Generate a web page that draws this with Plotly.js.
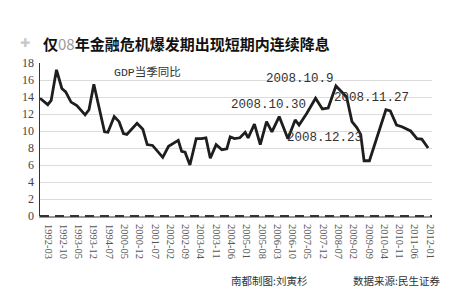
<!DOCTYPE html>
<html>
<head>
<meta charset="utf-8">
<script src="https://cdn.plot.ly/plotly-3.0.1.min.js"></script>
<style>html,body{margin:0;padding:0;background:#fff;}#chart{width:470px;height:300px;}</style>
</head>
<body>
<div id="chart"></div>
<script>
// period index (quarters from start of series) and GDP year-on-year growth (%)
const periods = [0.0, 1.6, 2.3, 3.4, 4.5, 5.3, 6.4, 7.6, 9.3, 10.1, 11.1, 12.2, 13.3, 14.0, 15.3, 16.3, 17.2, 17.9,
  20.0, 21.2, 22.1, 23.2, 25.3, 26.5, 28.5, 29.2, 29.9, 30.9, 32.2, 33.3, 34.2, 35.1, 36.3, 37.5, 38.5, 39.2,
  40.1, 41.2, 42.3, 42.9, 44.2, 45.4, 46.7, 47.8, 49.3, 51.1, 52.6, 53.4, 55.0, 56.8, 58.2, 59.4, 61.0, 62.2,
  63.2, 64.3, 65.3, 66.1, 66.8, 67.9, 71.3, 72.2, 73.5, 74.6, 76.4, 77.7, 78.7, 80.0];
const gdpGrowth = [13.85, 13.1, 13.6, 17.2, 15.0, 14.6, 13.4, 13.0, 11.9, 12.5, 15.5, 12.7, 9.9, 9.85, 11.7, 11.1, 9.7, 9.6,
  10.9, 10.2, 8.4, 8.3, 6.9, 8.2, 8.9, 7.6, 7.5, 6.0, 9.1, 9.1, 9.2, 6.8, 8.4, 7.8, 7.9, 9.3,
  9.1, 9.2, 9.85, 9.2, 10.8, 8.4, 11.1, 9.9, 11.7, 9.1, 11.3, 10.7, 12.1, 13.85, 12.6, 12.7, 15.3, 14.6,
  14.0, 11.1, 10.4, 9.6, 6.5, 6.5, 12.5, 12.35, 10.7, 10.5, 10.0, 9.1, 9.05, 8.0];
const tickLabels = ["1992-03","1992-10","1993-05","1993-12","1994-07","2000-05","2000-12","2001-07","2002-02",
  "2002-09","2003-04","2003-11","2004-06","2005-01","2005-08","2006-03","2006-10","2007-05","2007-12",
  "2008-07","2009-02","2009-09","2010-04","2010-11","2011-06","2012-01"];
const yTicks = [0, 2, 4, 6, 8, 10, 12, 14, 16, 18];
const yTickText = ["0", "2", "4", "6", "8", "10", "12", "14", "16", "18"];
const seriesLabel = "GDP当季同比";
const dateNotes = ["2008.10.9", "2008.10.30", "2008.11.27", "2008.12.23"];

const tickVals = tickLabels.map((_, i) => 1.65 + 3.15 * i);
const mono = "Liberation Mono, DejaVu Sans Mono, monospace";

const trace = {
  x: periods, y: gdpGrowth, type: 'scatter', mode: 'lines',
  line: {color: '#1e1e1e', width: 2.8}, hoverinfo: 'skip'
};

const noteStyle = {xref: 'paper', yref: 'paper', showarrow: false, xanchor: 'left', yanchor: 'middle',
  font: {family: mono, size: 12.5, color: '#333'}};
function px(xp) { return (xp - 40) / (432 - 40); }
function py(yp) { return (216 - yp) / (216 - 63); }

const layout = {
  width: 470, height: 300,
  margin: {l: 40, r: 38, t: 63, b: 84},
  paper_bgcolor: '#fff', plot_bgcolor: '#fff',
  showlegend: false,
  xaxis: {
    range: [0, 80.8], tickmode: 'array', tickvals: tickVals, ticktext: tickLabels,
    tickangle: 90, showgrid: false, zeroline: false,
    showline: true, linecolor: '#999', linewidth: 2, ticks: '', ticklabelstandoff: 4,
    tickfont: {family: 'Liberation Serif, serif', size: 10.5, color: '#555'}
  },
  yaxis: {
    range: [0, 18], tickmode: 'array', tickvals: yTicks, ticktext: yTickText,
    showgrid: true, gridcolor: '#dcdcdc', gridwidth: 1, zeroline: false,
    showline: true, linecolor: '#333', linewidth: 1.5, ticks: '', ticklabelstandoff: 2,
    tickfont: {family: 'Liberation Serif, serif', size: 12, color: '#444'}
  },
  shapes: [
    {type: 'line', xref: 'paper', yref: 'paper', x0: 0, x1: 1, y0: 0, y1: 0,
     line: {color: '#333', width: 2, dash: '9px,6px'}}
  ],
  annotations: [
    {text: '<b>仅</b><span style="font-weight:normal;color:#999">08</span><b>年金融危机爆发期出现短期内连续降息</b>',
     xref: 'paper', yref: 'paper', x: px(41), y: py(43), xanchor: 'left', yanchor: 'middle', showarrow: false,
     font: {family: 'Noto Sans CJK SC, sans-serif', size: 15, color: '#111'}},
    {text: '<b>✚</b>', xref: 'paper', yref: 'paper', x: px(25), y: py(43), xanchor: 'center', yanchor: 'middle',
     showarrow: false, font: {family: 'DejaVu Sans, sans-serif', size: 12, color: '#c8c8c8'}},
    Object.assign({}, noteStyle, {text: seriesLabel, x: px(112), y: py(72),
      font: {family: 'Liberation Mono, Noto Sans CJK SC, monospace', size: 11.5, color: '#333'}}),
    Object.assign({}, noteStyle, {text: dateNotes[0], x: px(264), y: py(79)}),
    Object.assign({}, noteStyle, {text: dateNotes[1], x: px(229), y: py(105)}),
    Object.assign({}, noteStyle, {text: dateNotes[2], x: px(332), y: py(98)}),
    Object.assign({}, noteStyle, {text: dateNotes[3], x: px(285), y: py(138)}),
    {text: '南都制图:刘寅杉', xref: 'paper', yref: 'paper', x: px(229), y: py(280), xanchor: 'left', yanchor: 'middle',
     showarrow: false, font: {family: 'Noto Sans CJK SC, sans-serif', size: 10.5, color: '#333'}},
    {text: '数据来源:民生证券', xref: 'paper', yref: 'paper', x: px(351), y: py(280), xanchor: 'left', yanchor: 'middle',
     showarrow: false, font: {family: 'Noto Sans CJK SC, sans-serif', size: 10.5, color: '#333'}}
  ]
};

Plotly.newPlot('chart', [trace], layout, {staticPlot: true, displayModeBar: false});
</script>
</body>
</html>
